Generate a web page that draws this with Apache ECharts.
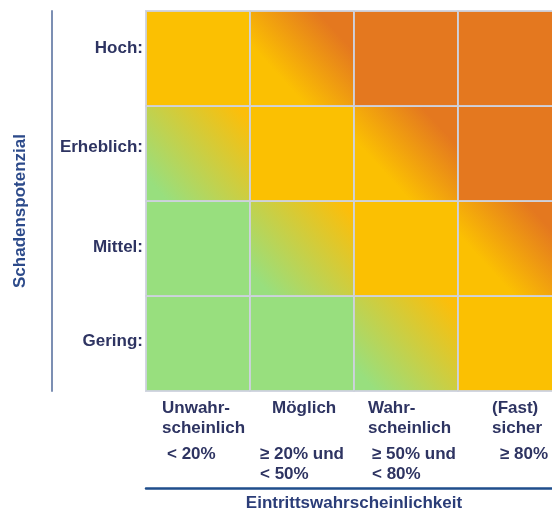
<!DOCTYPE html>
<html>
<head>
<meta charset="utf-8">
<script src="https://cdn.jsdelivr.net/npm/echarts@6/dist/echarts.min.js"></script>
<style>
  html, body { margin: 0; padding: 0; background: #ffffff; overflow: hidden; }
  #chart { width: 552px; height: 512px; }
</style>
</head>
<body>
<div id="chart"></div>
<script>
// ---- Data ----
var xCategories = ['Unwahr-\nscheinlich', 'Möglich', 'Wahr-\nscheinlich', '(Fast)\nsicher'];
var xRanges = ['< 20%', '≥ 20% und\n< 50%', '≥ 50% und\n< 80%', '≥ 80%'];
var yCategories = ['Gering:', 'Mittel:', 'Erheblich:', 'Hoch:']; // bottom to top
var xAxisTitle = 'Eintrittswahrscheinlichkeit';
var yAxisTitle = 'Schadenspotenzial';
// Risk level per cell (rows bottom->top, cols left->right)
// 0 = green, 1 = green->yellow, 2 = yellow, 3 = yellow->orange, 4 = orange
var riskGering    = [0, 0, 1, 2];
var riskMittel    = [0, 1, 2, 3];
var riskErheblich = [1, 2, 3, 4];
var riskHoch      = [2, 3, 4, 4];
var riskRows = [riskGering, riskMittel, riskErheblich, riskHoch];

// ---- Build series data ----
var cellData = [];
riskRows.forEach(function (row, r) {
  row.forEach(function (lvl, c) { cellData.push([c, r, lvl]); });
});
var labelData = xCategories.map(function (name, i) { return [i, 0]; });

// ---- Styles ----
var GREEN = '#98DF7E', YELLOW = '#FBC002', ORANGE = '#E4781F';
var NAVY = '#2E3462';
var FONT = '"Liberation Sans", Arial, sans-serif';
function fillFor(lvl) {
  if (lvl === 0) return GREEN;
  if (lvl === 2) return YELLOW;
  if (lvl === 4) return ORANGE;
  if (lvl === 1) return new echarts.graphic.LinearGradient(0, 1, 1, 0, [
    { offset: 0, color: GREEN }, { offset: 0.12, color: GREEN }, { offset: 0.92, color: '#FCBE0A' }, { offset: 1, color: '#FCBE0A' }]);
  return new echarts.graphic.LinearGradient(0, 1, 1, 0, [
    { offset: 0, color: YELLOW }, { offset: 0.3, color: YELLOW }, { offset: 0.8, color: ORANGE }, { offset: 1, color: ORANGE }]);
}
// label layout offsets (px from column left edge)
var nameDx = [16, 22, 14, 34];
var rangeDx = [21, 10, 18, 42];
var yShift = [4, 3, 12, 20];

var chart = echarts.init(document.getElementById('chart'), null, { renderer: 'canvas' });
var rich = {};
yShift.forEach(function (p, i) {
  rich['r' + i] = { fontSize: 17, fontWeight: 'bold', fontFamily: FONT, color: NAVY, padding: [0, 0, p, 0] };
});

chart.setOption({
  animation: false,
  backgroundColor: '#ffffff',
  grid: { left: 146, top: 11, width: 416, height: 380, containLabel: false, outerBoundsMode: 'none' },
  xAxis: [
    { type: 'category', data: xCategories, gridIndex: 0,
      axisLine: { show: false }, axisTick: { show: false }, axisLabel: { show: false }, splitLine: { show: false } },
    { type: 'category', data: xCategories, gridIndex: 0, position: 'bottom', offset: 97,
      axisLine: { show: true, lineStyle: { color: '#1F4E8C', width: 2.5 } },
      axisTick: { show: false }, axisLabel: { show: false },
      name: xAxisTitle, nameLocation: 'middle', nameGap: 7,
      nameTextStyle: { fontSize: 17, fontWeight: 'bold', fontFamily: FONT, color: '#2B3D78', verticalAlign: 'top' } }
  ],
  yAxis: [
    { type: 'category', data: yCategories, gridIndex: 0,
      axisLine: { show: false }, axisTick: { show: false }, splitLine: { show: false },
      axisLabel: { margin: 3, formatter: function (v, i) { return '{r' + i + '|' + v + '}'; }, rich: rich } },
    { type: 'category', data: yCategories, gridIndex: 0, position: 'left', offset: 94,
      axisLine: { show: true, lineStyle: { color: '#7C8FB3', width: 2 } },
      axisTick: { show: false }, axisLabel: { show: false },
      name: yAxisTitle, nameLocation: 'middle', nameGap: 23, nameRotate: 90,
      nameTextStyle: { fontSize: 17, fontWeight: 'bold', fontFamily: FONT, color: '#2C4A8A', padding: [0, 20, 0, 0] } }
  ],
  series: [
    { type: 'custom', xAxisIndex: 0, yAxisIndex: 0, data: cellData, silent: true,
      renderItem: function (params, api) {
        var c = api.coord([api.value(0), api.value(1)]);
        var s = api.size([1, 1]);
        return { type: 'rect',
          shape: { x: c[0] - s[0] / 2, y: c[1] - s[1] / 2, width: s[0], height: s[1] },
          style: { fill: fillFor(api.value(2)), stroke: 'rgba(205,210,222,0.9)', lineWidth: 2 } };
      } },
    { type: 'custom', xAxisIndex: 0, yAxisIndex: 0, data: labelData, silent: true, clip: false,
      renderItem: function (params, api) {
        var i = params.dataIndex;
        var c = api.coord([api.value(0), api.value(1)]);
        var s = api.size([1, 1]);
        var left = c[0] - s[0] / 2, bottom = c[1] + s[1] / 2;
        var st = { fill: NAVY, fontSize: 17, fontWeight: 'bold', fontFamily: FONT, lineHeight: 20, align: 'left', verticalAlign: 'top' };
        return { type: 'group', children: [
          { type: 'text', x: left + nameDx[i], y: bottom + 7, style: Object.assign({ text: xCategories[i] }, st) },
          { type: 'text', x: left + rangeDx[i], y: bottom + 53, style: Object.assign({ text: xRanges[i] }, st) }
        ] };
      } }
  ]
});
</script>
</body>
</html>
